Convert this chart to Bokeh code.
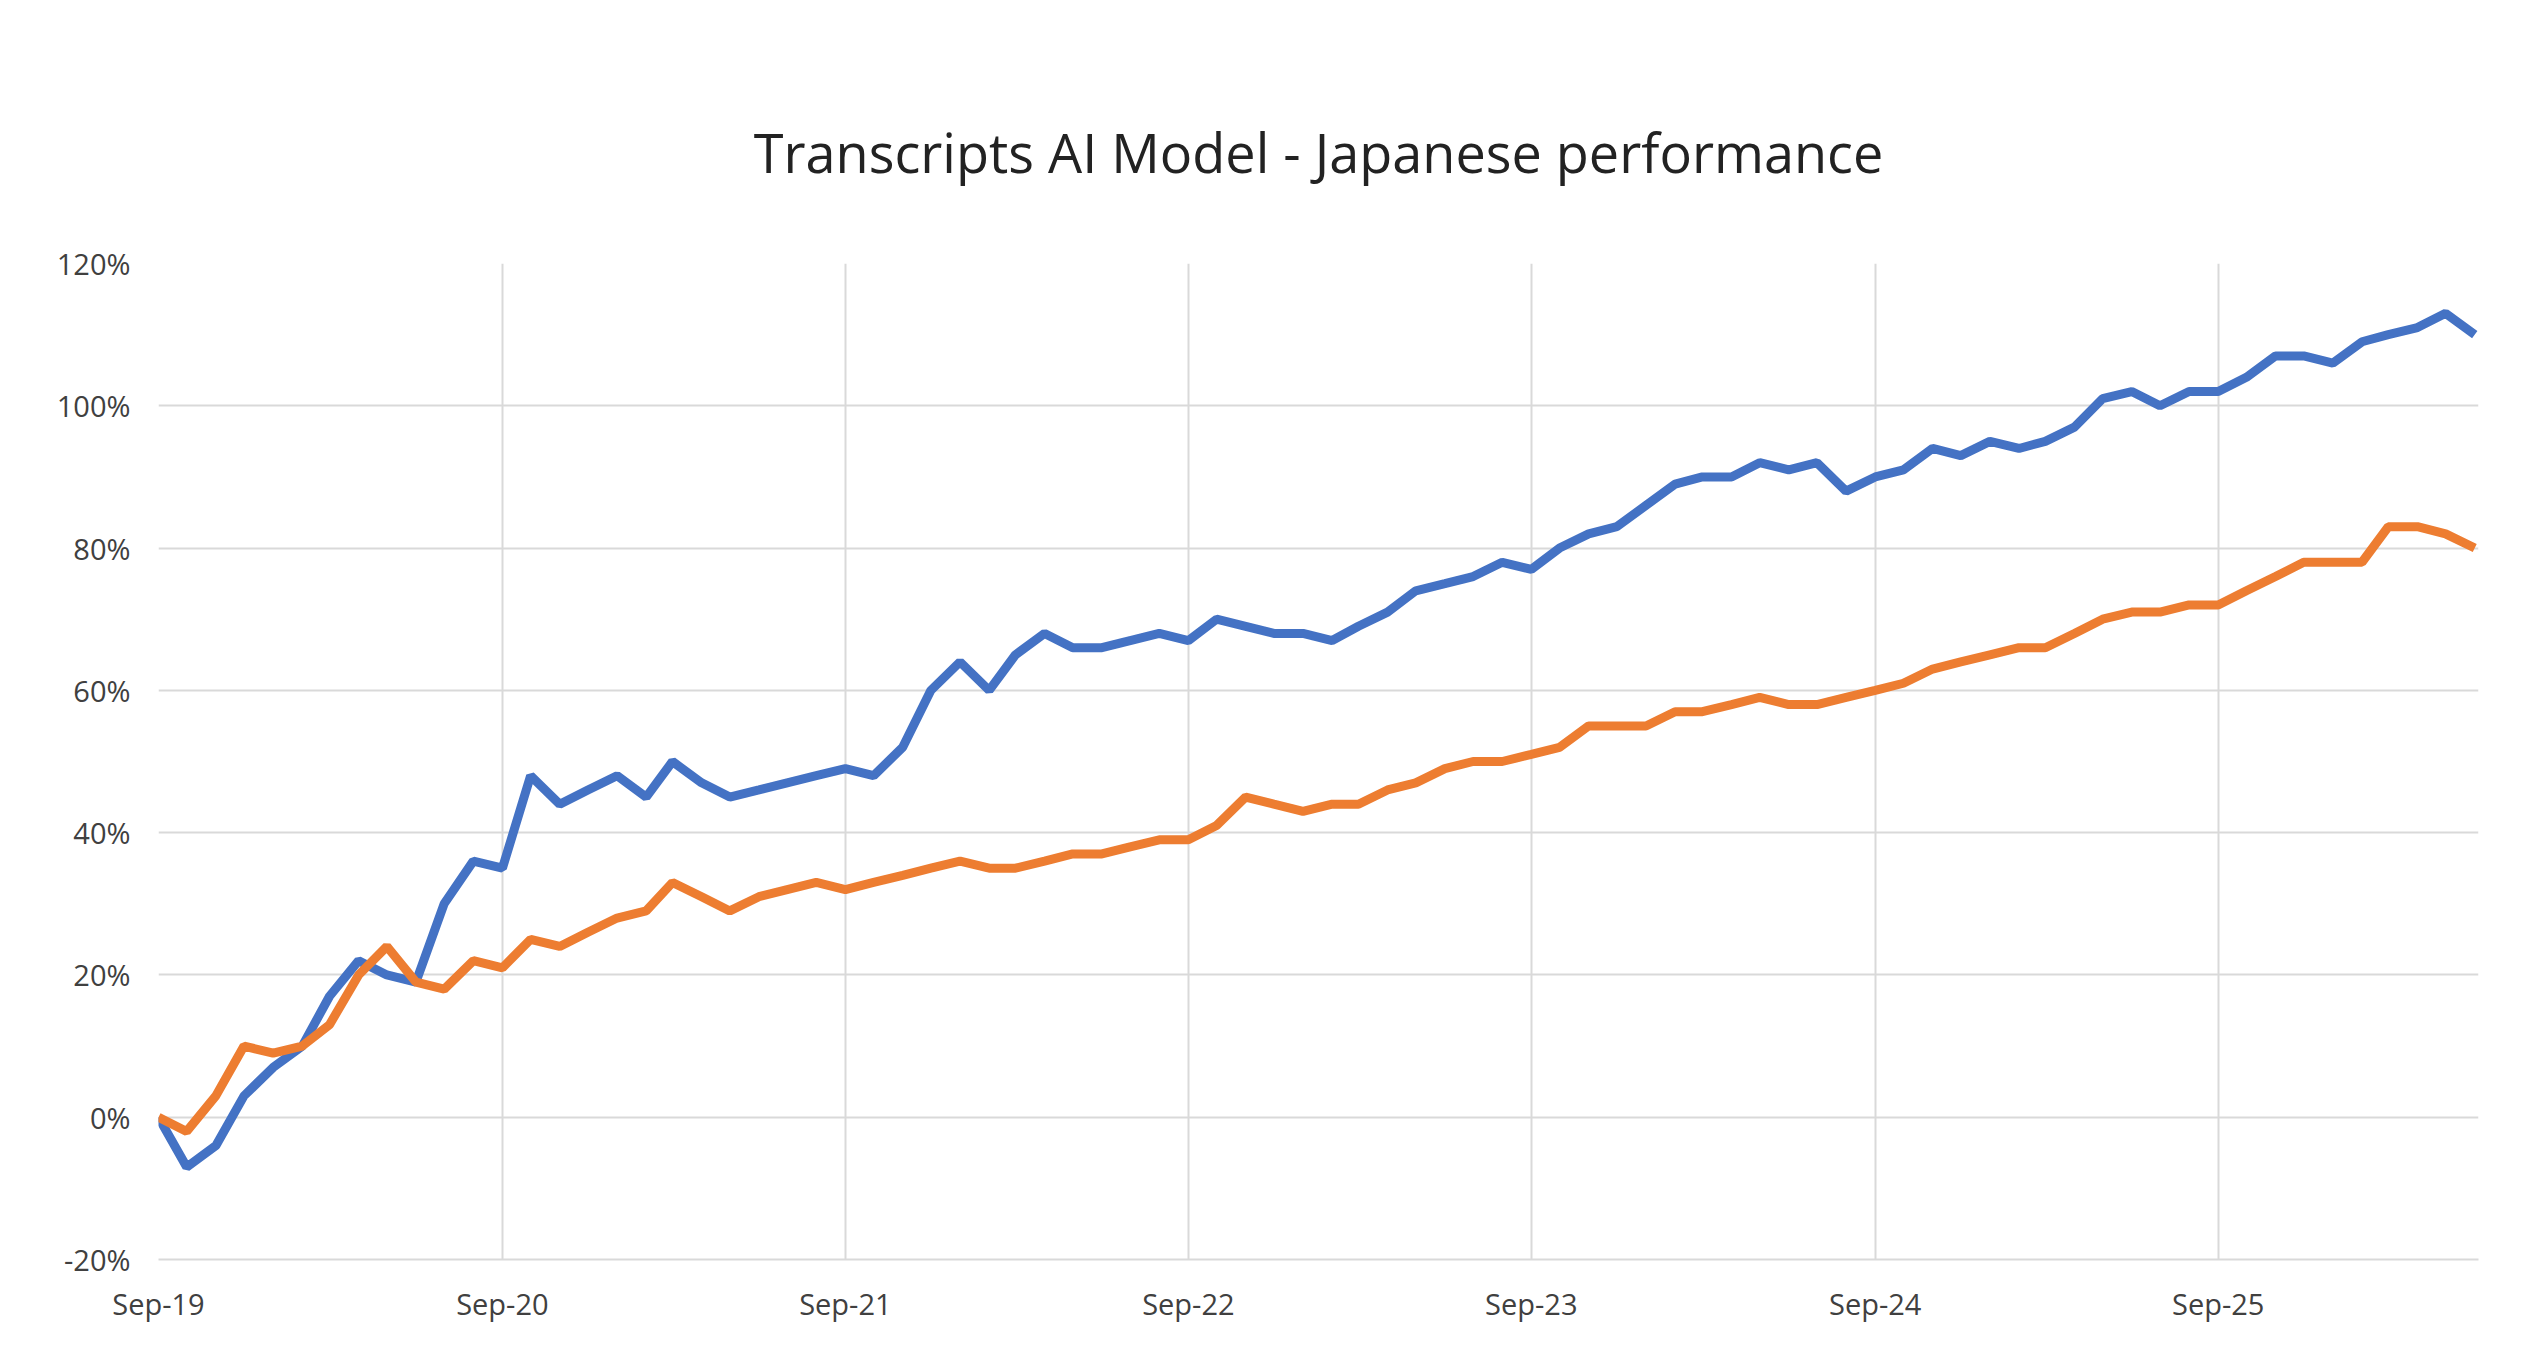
import pandas as pd
from bokeh.plotting import figure
from bokeh.models import FixedTicker, DatetimeTickFormatter, NumeralTickFormatter, Legend, LegendItem, Range1d
from bokeh.embed import file_html
from bokeh.resources import INLINE

start = "2019-09-01"
raw = [0,-7,-4,3,7,10,17,22,20,19,30,36,35,48,44,46,48,45,50,47,45,46,47,48,49,48,52,60,64,60,65,68,66,66,67,68,67,70,69,68,68,67,69,71,74,75,76,78,77,80,82,83,86,89,90,90,92,91,92,88,90,91,94,93,95,94,95,97,101,102,100,102,102,104,107,107,106,109,110,111,113,110]
resid = [0,-2,3,10,9,10,13,20,24,19,18,22,21,25,24,26,28,29,33,31,29,31,32,33,32,33,34,35,36,35,35,36,37,37,38,39,39,41,45,44,43,44,44,46,47,49,50,50,51,52,55,55,55,57,57,58,59,58,58,59,60,61,63,64,65,66,66,68,70,71,71,72,72,74,76,78,78,78,83,83,82,80]
dates = pd.date_range(start, periods=len(raw), freq="MS")
tick_dates = pd.date_range("2019-09-01", periods=7, freq="12MS")

p = figure(width=2505, height=1350, x_axis_type="datetime", output_backend="svg", toolbar_location=None,
           title="Transcripts AI Model - Japanese performance",
           min_border_left=158, min_border_right=27, min_border_bottom=91, min_border_top=263)
p.x_range = Range1d(pd.Timestamp("2019-09-01"), pd.Timestamp("2026-06-05"))
p.y_range = Range1d(-0.2, 1.2)
p.title.align = "center"
p.title.text_font = "Open Sans"
p.title.text_font_size = "54px"
p.title.text_font_style = "normal"
p.title.text_color = "#222222"
p.title.standoff = 150
p.outline_line_color = None

r1 = p.line(dates, [v/100 for v in raw], line_width=9, color="#4472C4")
r2 = p.line(dates, [v/100 for v in resid], line_width=9, color="#ED7D31")

p.xaxis.ticker = FixedTicker(ticks=[d.value/1e6 for d in tick_dates])
p.xaxis.formatter = DatetimeTickFormatter(months="%b-%y", days="%b-%y", years="%b-%y")
p.yaxis.ticker = FixedTicker(ticks=[-0.2,0,0.2,0.4,0.6,0.8,1.0,1.2])
p.yaxis.formatter = NumeralTickFormatter(format="0%")
for ax in (p.xaxis, p.yaxis):
    ax.major_label_text_font = "Open Sans"
    ax.major_label_text_font_size = "29px"
    ax.major_label_text_color = "#404040"
    ax.major_tick_line_color = None
    ax.minor_tick_line_color = None
p.yaxis.axis_line_color = None
p.xaxis.axis_line_color = "#d9d9d9"
p.xaxis.axis_line_width = 2
p.xaxis.major_label_standoff = 18
p.yaxis.major_label_standoff = 22
p.grid.grid_line_color = "#d9d9d9"
p.grid.grid_line_width = 2

legend = Legend(items=[LegendItem(label="Raw", renderers=[r1]), LegendItem(label="Residualized", renderers=[r2])],
                orientation="horizontal", location=(830, 1050), label_text_font="Open Sans",
                label_text_font_size="34px", label_text_color="#404040", border_line_color=None,
                background_fill_alpha=0, glyph_width=90, spacing=40, margin=0, padding=5)
p.add_layout(legend, "center")

open("out.html", "w").write(file_html(p, INLINE))
